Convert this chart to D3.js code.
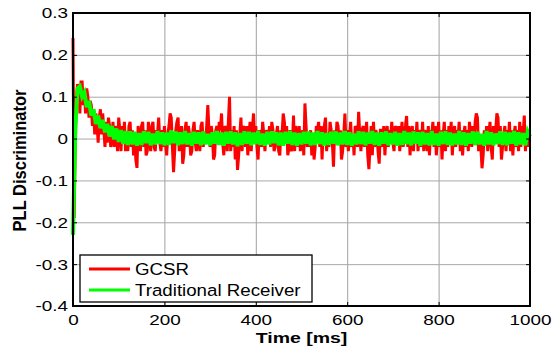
<!DOCTYPE html>
<html>
<head>
<meta charset="utf-8">
<script src="https://cdn.jsdelivr.net/npm/d3@7"></script>
<style>
  body { margin: 0; background: #fff; }
  svg { display: block; }
  text { font-family: "Liberation Sans", Arial, sans-serif; fill: #000; }
</style>
</head>
<body>
<div id="chart"></div>
<script>
// sample steps, ms
const gcsrStepMs = 2.5;
const tradStepMs = 5;

// GCSR discriminator output (hundredths), one value per 2.5 ms
const gcsr = [
  24, -19, 0, 10, 13, 12, 6, 13.5, 13.5, 8,
  11, 6, 12, 10, 5, 9, 8, 3, 7, 1,
  6, 4, -1, 5, 7, 1, 6, 2, -2, 4,
  -1, 5, 3, -2, 0, 4, -2, 3, 1, -3,
  5, 2, -3, 3, -1, 4, -3, 1, -3, 3,
  4, -2, 2, -4, 1, -5, -7, 3, 1, -3,
  3, 4, -2, 2, -4, -3, 4, 0, -3, 3,
  4, -2, -3, 2, 1, 5, -1, -3, 2, -2,
  3, -1, -4, 1, 3, 6, 5, -2, -8, -3,
  2, 4, 5, -3, -1, 3, -6, -4, 2, 4,
  -2, 3, 1, -4, -3, 2, 4, -1, -3, 2,
  0, -3, 3, 4, -2, 1, -1, 3, 8, 2,
  -2, 3, 1, -5, -4, 2, 3, -1, 4, 2,
  6, -1, -4, 3, 2, -3, 4, 10, -3, 2,
  -2, 3, -5, 2, -7.5, -4, 1, 5, -3, 3,
  2, -2, 3, -4, 1, 4, -3, 2, 6, 0,
  3, -2, -5, 2, 1, -2, 4, 1, -3, 2,
  1, -1, 3, -2, 4, 2, -3, -2, 1, 3,
  -3, -4, 2, 1, 6, 4, -1, 3, -4, -2,
  2, -3, -2, 5.5, -3, 3, 1, -2, 3, -3,
  0, 2, -4, 8.4, 3, -2, 1, -2, 2, -4,
  1, -5, -2, 3, 2, 4, -2, 3, -5, 2,
  3, 5, -3, 1, -2, 4, 2, -1, -6.7, 2,
  -1, 4, 3, -1, 2, -5, -3, 1, 6, -2,
  2, -3, 0, 4, -2, 1, -4, 3, 2, -2,
  6.4, 1, -3, 2, 3, -2, 1, 4, -4, -7.3,
  -2, 3, -4, 4, -2, 2, 1, -3, -6, 2,
  2, -2, 3, -4, 1, 3, -2, 2, 0, 4,
  -1, -3, 3, 2, -1, 3, -3, 1, 4, -2,
  1, 3, 5.4, -2, 3, -4, 1, 3, -3, 2,
  -1, 4, -3, 2, 1, -2, 4, -3, 2, 1,
  -3, 3, -4, 2, 1, 4, -2, 3, -4, 0,
  4, -2, 2, -5, 1, 4, -3, 2, -2, 3,
  -1, 4, -4, 1, 3, -2, 2, 0, 4, -3,
  2, -4, 1, 3, -2, 2, -3, 4, 1, -2,
  3, -1, 4, 6, 5, -3, 1, -2, -7.1, -4,
  2, -1, 3, -3, 1, 4, -2, -5, 3, -1,
  2, 6, 5, -2, 3, -5, -2, 1, 3, -3,
  2, -1, 4, -3, 2, -4, 1, 3, -2, 2,
  -3, 4, -2, 3, 1, 5.5, -3, 2, -2, 1,
  1
];

// Traditional receiver discriminator output (hundredths), one value per 5 ms
const traditional = [
  -23, 2, 12, 12.5, 10, 11, 7.5, 9, 5.5, 7,
  3.5, 5.5, 2.5, 4.5, 1.5, 3.5, 0.5, 3, -0.2, 2.4,
  -0.8, 2, -1.3, 1.8, -1.5, 1.7, -1.4, 1.6, -1.7, 1.3,
  -1.5, 1.7, -1.1, 1.6, -1.6, 1.2, -1.4, 1.8, -1.3, 1.5,
  -1.6, 1.4, -1.5, 1.9, -1.1, 1.7, -1.6, 1.5, -1.3, 1.8,
  -1.4, 1.3, -1.7, 1.6, -1.2, 1.5, -1.6, 1.7, -1.4, 1.1,
  -1.6, 1.5, -1.2, 1.8, -1.5, 1.4, -1.7, 1.6, -1.2, 1.7,
  -1.4, 1.5, -1.8, 1.3, -1.5, 1.7, -1.2, 1.6, -1.6, 1.4,
  -1.3, 1.8, -1.5, 1.2, -1.7, 1.6, -1.4, 1.7, -1.1, 1.5,
  -1.6, 1.4, -1.7, 1.6, -1.2, 1.8, -1.5, 1.4, -1.7, 1.3,
  -1.4, 1.6, -1.2, 1.7, -1.6, 1.4, -1.5, 1.8, -1.3, 1.5,
  -1.7, 1.3, -1.5, 1.6, -1.2, 1.7, -1.6, 1.4, -1.4, 1.8,
  -1.5, 1.5, -1.7, 1.2, -1.4, 1.7, -1.3, 1.6, -1.6, 1.4,
  -1.2, 1.8, -1.5, 1.4, -1.7, 1.5, -1.2, 1.7, -1.6, 1.3,
  -1.4, 1.6, -1.7, 1.3, -1.5, 1.8, -1.3, 1.4, -1.6, 1.7,
  -1.2, 1.5, -1.7, 1.6, -1.4, 1.3, -1.6, 1.8, -1.5, 1.2,
  -1.7, 1.6, -1.3, 1.7, -1.5, 1.4, -1.6, 1.2, -1.4, 1.8,
  -1.5, 1.5, -1.7, 1.3, -1.2, 1.7, -1.6, 1.6, -1.4, 1.1,
  -1.7, 1.8, -1.4, 1.5, -1.6, 1.2, -1.3, 1.7, -1.5, 1.6,
  -1.6, 1.4, -1.2, 1.8, -1.7, 1.5, -1.4, 1.3, -1.6, 1.7,
  0.5
];

const xTicks = [0, 200, 400, 600, 800, 1000];
const yTicks = [-0.4, -0.3, -0.2, -0.1, 0, 0.1, 0.2, 0.3];
const yTickLabels = ['-0.4', '-0.3', '-0.2', '-0.1', '0', '0.1', '0.2', '0.3'];
const legendItems = [
  { label: 'GCSR', color: '#ff0000', width: 3, step: gcsrStepMs, values: gcsr },
  { label: 'Traditional Receiver', color: '#00ff00', width: 4, step: tradStepMs, values: traditional }
];

const W = 552, H = 347;
const margin = { top: 13, right: 22, bottom: 41, left: 73 };
const width = W - margin.left - margin.right;
const height = H - margin.top - margin.bottom;

const svg = d3.select('#chart').append('svg').attr('width', W).attr('height', H);
svg.append('rect').attr('width', W).attr('height', H).attr('fill', '#fff');

const g = svg.append('g').attr('transform', 'translate(' + margin.left + ',' + margin.top + ')');

const x = d3.scaleLinear().domain([0, 1000]).range([0, width]);
const y = d3.scaleLinear().domain([-0.4, 0.3]).range([height, 0]);

/* grid */
g.append('g').attr('class', 'grid')
  .call(d3.axisBottom(x).tickValues(xTicks.slice(1, -1)).tickSize(height).tickFormat(''))
  .call(s => s.select('.domain').remove())
  .selectAll('line').attr('stroke', '#a0a0a0').attr('stroke-width', 1);
g.append('g').attr('class', 'grid')
  .call(d3.axisLeft(y).tickValues(yTicks.slice(1, -1)).tickSize(-width).tickFormat(''))
  .call(s => s.select('.domain').remove())
  .selectAll('line').attr('stroke', '#a8a8a8').attr('stroke-width', 1);

/* traces */
legendItems.forEach(s => {
  const line = d3.line()
    .x((d, i) => x(i * s.step))
    .y(d => y(d / 100));
  g.append('path').datum(s.values)
    .attr('fill', 'none').attr('stroke', s.color)
    .attr('stroke-width', s.width).attr('stroke-linejoin', 'miter')
    .attr('d', line);
});

/* axes */
const tickScale = 1.35;
const xAxis = g.append('g').attr('transform', 'translate(0,' + height + ')')
  .call(d3.axisBottom(x).tickValues(xTicks).tickSize(-4).tickFormat(d => String(d)));
xAxis.select('.domain').remove();
xAxis.selectAll('line').attr('stroke', '#000');
xAxis.selectAll('text')
  .attr('y', 19.5).attr('dy', 0)
  .attr('font-size', 14)
  .attr('font-family', '"Liberation Sans", Arial, sans-serif')
  .attr('fill', '#000')
  .attr('transform', 'scale(' + tickScale + ',1)');

const yAxis = g.append('g')
  .call(d3.axisLeft(y).tickValues(yTicks).tickSize(-4).tickFormat((d, i) => yTickLabels[i]));
yAxis.select('.domain').remove();
yAxis.selectAll('line').attr('stroke', '#000');
yAxis.selectAll('text')
  .attr('x', -5 / tickScale).attr('dy', '0.35em')
  .attr('font-size', 14)
  .attr('font-family', '"Liberation Sans", Arial, sans-serif')
  .attr('fill', '#000')
  .attr('transform', 'scale(' + tickScale + ',1)');

// mirrored ticks on top / right
g.append('g').call(d3.axisTop(x).tickValues(xTicks).tickSize(-4).tickFormat(''))
  .call(s => s.select('.domain').remove()).selectAll('line').attr('stroke', '#000');
g.append('g').attr('transform', 'translate(' + width + ',0)')
  .call(d3.axisRight(y).tickValues(yTicks).tickSize(-4).tickFormat(''))
  .call(s => s.select('.domain').remove()).selectAll('line').attr('stroke', '#000');

// box
g.append('rect').attr('width', width).attr('height', height)
  .attr('fill', 'none').attr('stroke', '#000').attr('stroke-width', 2);

/* axis labels */
svg.append('text')
  .attr('transform', 'translate(' + (margin.left + width / 2) + ',343) scale(1.3,1)')
  .attr('text-anchor', 'middle').attr('font-weight', 'bold').attr('font-size', 15)
  .text('Time [ms]');
svg.append('text')
  .attr('transform', 'translate(26,' + (margin.top + height / 2 + 1) + ') rotate(-90) scale(1.1,1.25)')
  .attr('text-anchor', 'middle').attr('font-weight', 'bold').attr('font-size', 15)
  .text('PLL Discriminator');

/* legend */
const legend = svg.append('g').attr('transform', 'translate(80,255)');
legend.append('rect').attr('width', 232).attr('height', 47)
  .attr('fill', '#fff').attr('stroke', '#000').attr('stroke-width', 1.3);
const item = legend.selectAll('.item').data(legendItems).enter().append('g')
  .attr('class', 'item')
  .attr('transform', (d, i) => 'translate(0,' + (14 + i * 21) + ')');
item.append('line').attr('x1', 9).attr('x2', 50)
  .attr('stroke', d => d.color).attr('stroke-width', 3);
item.append('text')
  .attr('transform', 'translate(55,6) scale(1.1,1)')
  .attr('font-size', 17)
  .text(d => d.label);
</script>
</body>
</html>
